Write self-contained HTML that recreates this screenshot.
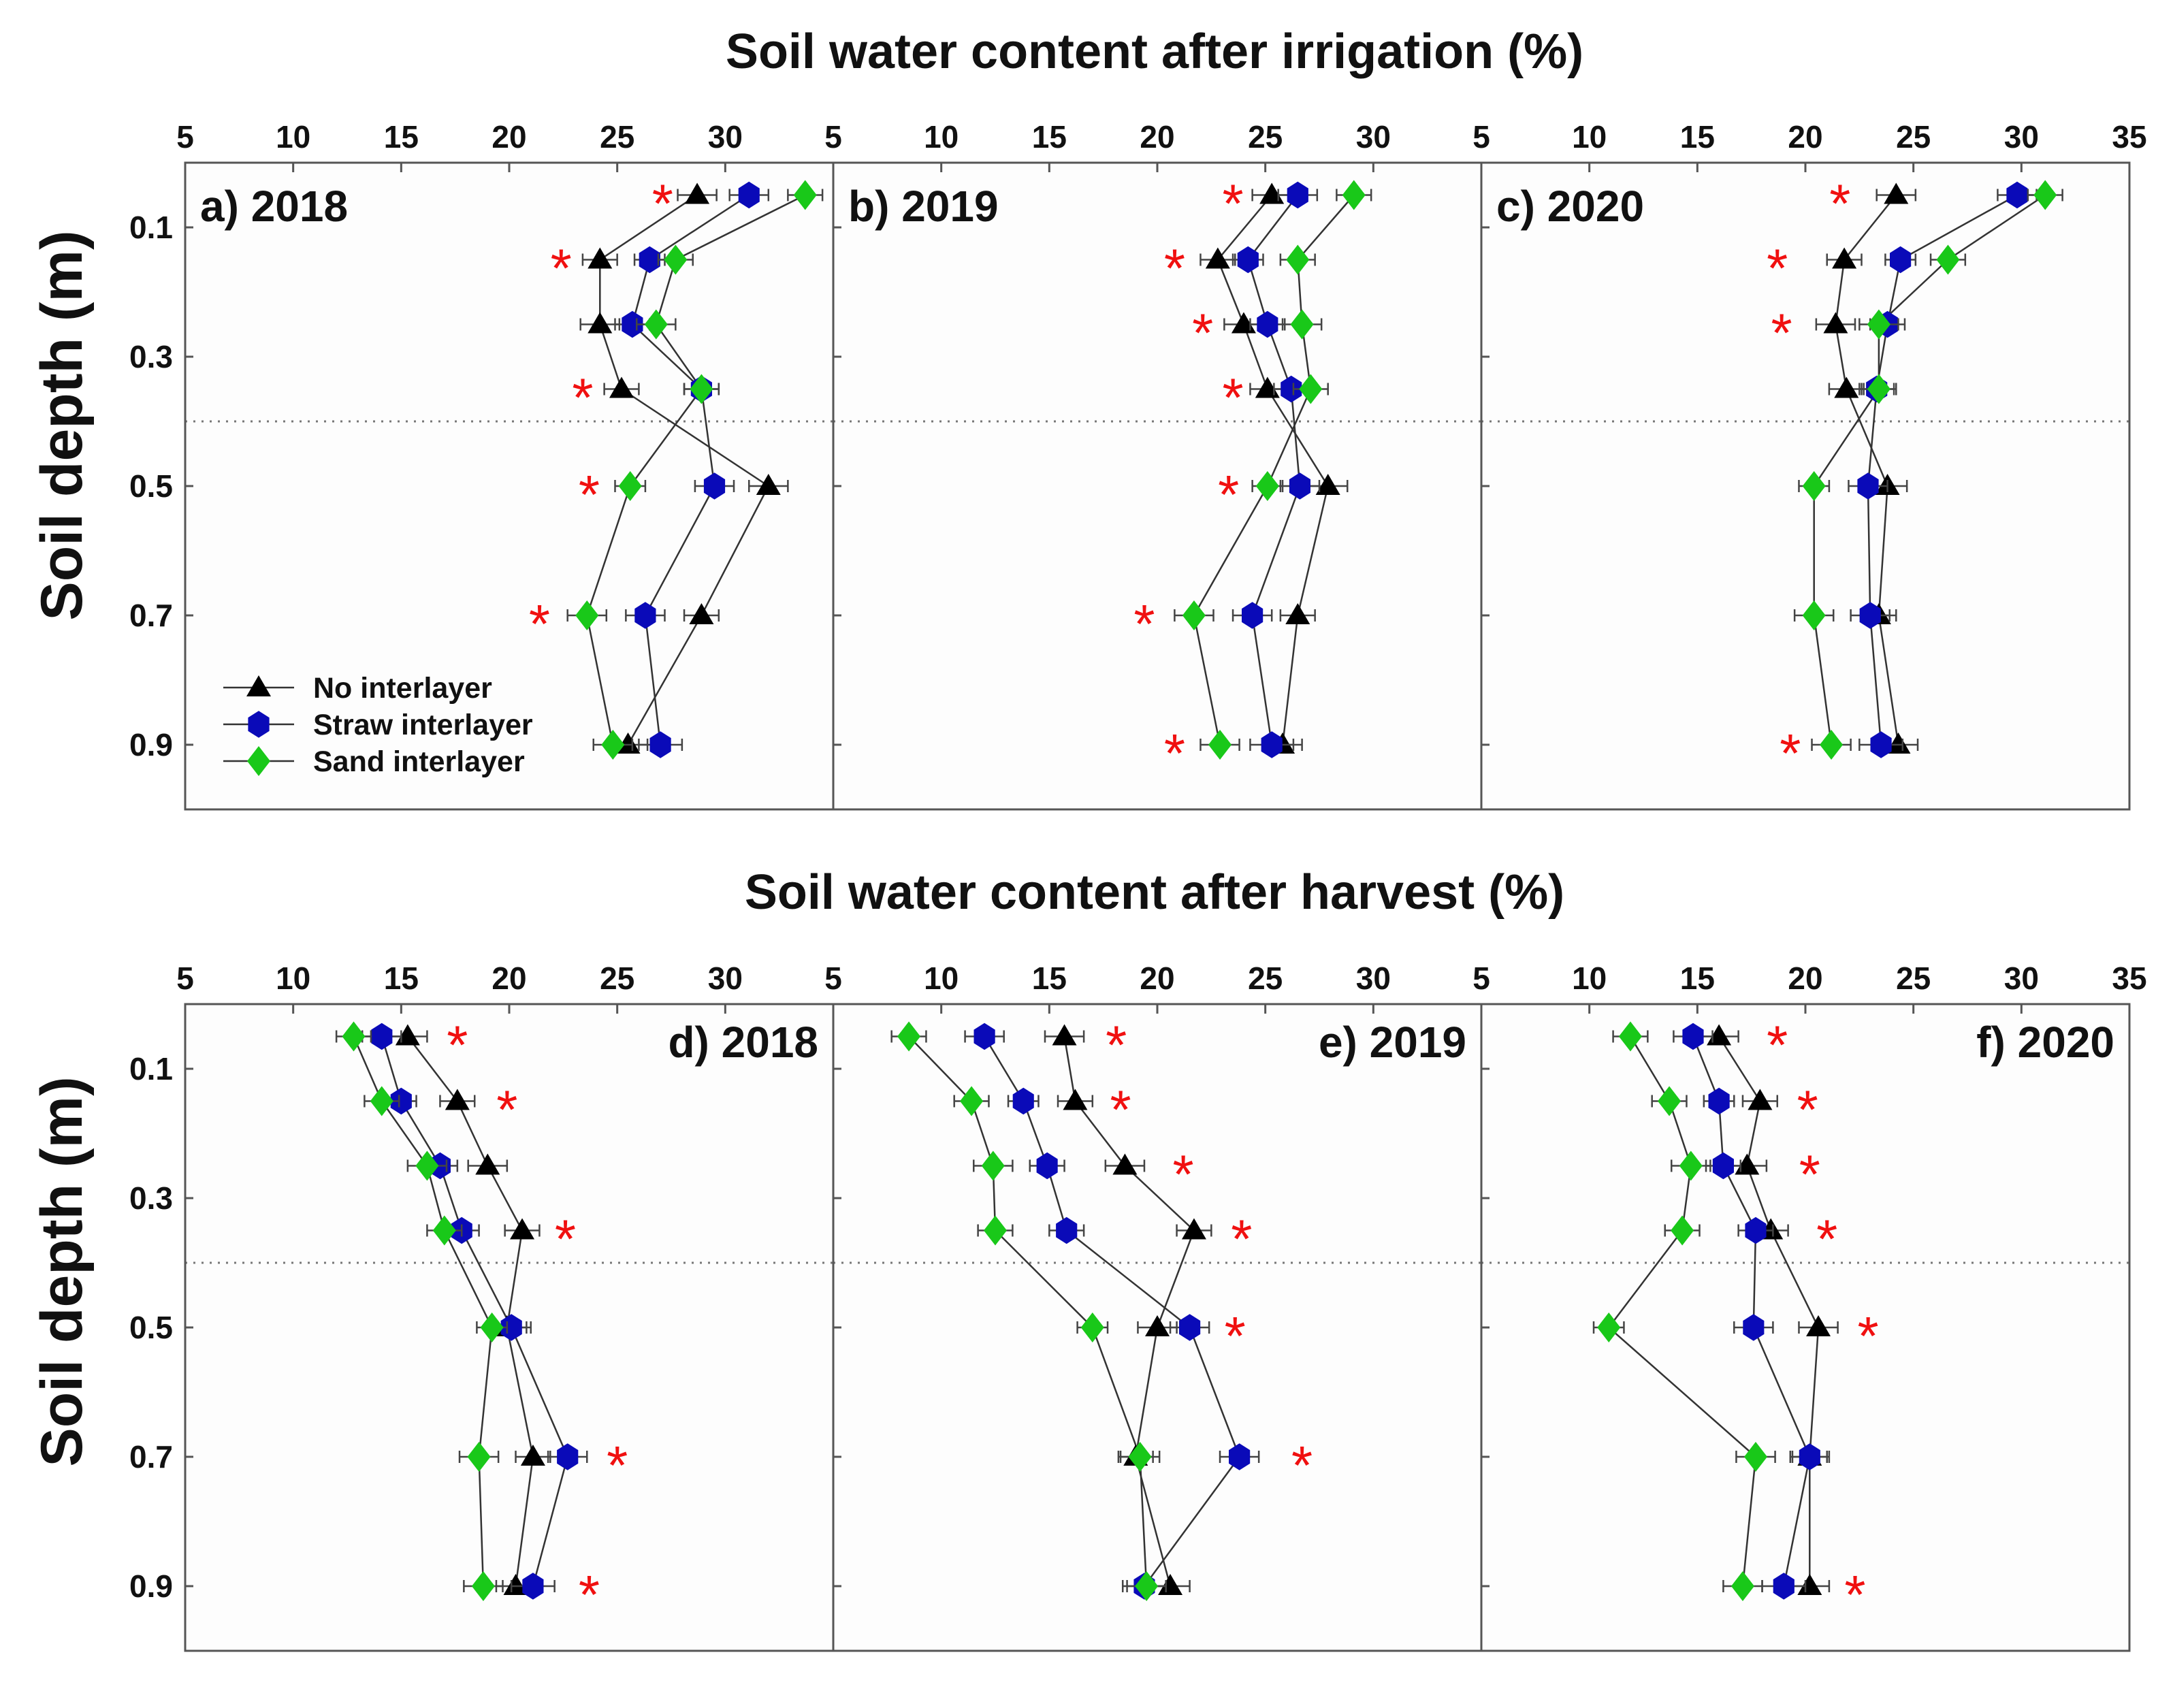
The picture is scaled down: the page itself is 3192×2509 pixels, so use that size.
<!DOCTYPE html>
<html><head><meta charset="utf-8"><style>
html,body{margin:0;padding:0;background:#fff;}
svg{display:block;font-family:"Liberation Sans",Arial,sans-serif;}
</style></head><body>
<svg id="chart" width="3192" height="2509" viewBox="0 0 3192 2509" xmlns="http://www.w3.org/2000/svg">
<rect width="3192" height="2509" fill="#fff"/>
<text x="1696" y="100" font-size="72" font-weight="bold" text-anchor="middle" fill="#111">Soil water content after irrigation (%)</text>
<text x="1696" y="1335" font-size="72" font-weight="bold" text-anchor="middle" fill="#111">Soil water content after harvest (%)</text>
<text transform="translate(120,625) rotate(-90)" font-size="86" font-weight="bold" text-anchor="middle" fill="#111">Soil depth (m)</text>
<text transform="translate(120,1868) rotate(-90)" font-size="86" font-weight="bold" text-anchor="middle" fill="#111">Soil depth (m)</text>
<g id="plots"></g>
</svg>
<script>
const depths=[0.05,0.15,0.25,0.35,0.5,0.7,0.9];
const xTicks=[5,10,15,20,25,30];
const yTicks=[0.1,0.3,0.5,0.7,0.9];
const panelLabels=["a) 2018","b) 2019","c) 2020","d) 2018","e) 2019","f) 2020"];
const noInter=[
 [28.7,24.2,24.2,25.2,32.0,28.9,25.5],
 [25.3,22.8,24.0,25.1,27.9,26.5,25.8],
 [24.2,21.8,21.4,21.9,23.8,23.4,24.3],
 [15.3,17.6,19.0,20.6,19.9,21.1,20.3],
 [15.7,16.2,18.5,21.7,20.0,19.0,20.6],
 [16.0,17.9,17.3,18.4,20.6,20.2,20.2]];
const straw=[
 [31.1,26.5,25.7,28.9,29.5,26.3,27.0],
 [26.5,24.2,25.1,26.2,26.6,24.4,25.3],
 [29.8,24.4,23.8,23.3,22.9,23.0,23.5],
 [14.1,15.0,16.8,17.8,20.1,22.7,21.1],
 [12.0,13.8,14.9,15.8,21.5,23.8,19.4],
 [14.8,16.0,16.2,17.7,17.6,20.2,19.0]];
const sand=[
 [33.7,27.7,26.8,28.9,25.6,23.6,24.8],
 [29.1,26.5,26.7,27.1,25.1,21.7,22.9],
 [31.1,26.6,23.4,23.4,20.4,20.4,21.2],
 [12.8,14.1,16.2,17.0,19.2,18.6,18.8],
 [8.5,11.4,12.4,12.5,17.0,19.2,19.5],
 [11.9,13.7,14.7,14.3,10.9,17.7,17.1]];
const errNo=[0.9,0.8,0.9,0.8,0.9,0.8,0.9];
const errStraw=[0.9,0.7,0.8,0.8,0.9,0.9,1.0];
const errSand=[0.8,0.8,0.9,0.8,0.7,0.9,0.9];
const stars=[
 [27.1,22.4,null,23.4,23.7,21.4,null],
 [23.5,20.8,22.1,23.5,23.3,19.4,20.8],
 [21.6,18.7,18.9,null,null,null,19.3],
 [17.6,19.9,null,22.6,null,25.0,23.7],
 [18.1,18.3,21.2,23.9,23.6,26.7,null],
 [18.7,20.1,20.2,21.0,22.9,null,22.3]];

const NS="http://www.w3.org/2000/svg";
const root=document.getElementById('plots');
const PX0=272, PW=952, ROWTOP=[239,1475], PH=950;
function mk(tag,attrs,parent){const e=document.createElementNS(NS,tag);for(const k in attrs)e.setAttribute(k,attrs[k]);(parent||root).appendChild(e);return e;}
function xs(p,v){return PX0+(p%3)*PW+(v-5)/30*PW;}
function ys(p,d){return ROWTOP[Math.floor(p/3)]+d/1.0*PH;}
function marker(g,type,x,y,color){
 let el;
 if(type==='tri'){el=mk('polygon',{points:`${x},${y-18} ${x+18},${y+13} ${x-18},${y+13}`,fill:color},g);}
 else if(type==='hex'){const r=18;const pts=[];for(let i=0;i<6;i++){const a=Math.PI/2+i*Math.PI/3;pts.push((x+r*Math.cos(a)).toFixed(1)+','+(y+r*1.1*Math.sin(a)).toFixed(1));}el=mk('polygon',{points:pts.join(' '),fill:color},g);}
 else {el=mk('polygon',{points:`${x},${y-22} ${x+17},${y} ${x},${y+22} ${x-17},${y}`,fill:color},g);}
 return el;
}
for(let p=0;p<6;p++){
 const row=Math.floor(p/3), left=PX0+(p%3)*PW, top=ROWTOP[row];
 const g=mk('g',{});
 
 
 const bg=mk('rect',{x:left,y:top,width:PW,height:PH,fill:'#fdfdfd',stroke:'none'},g);
 
 
 const dl=mk('line',{x1:left,x2:left+PW,y1:ys(p,0.4),y2:ys(p,0.4),stroke:'#777','stroke-width':3,'stroke-dasharray':'3 9'},g);
 
 
 const xt=xTicks.concat([35]);
 xt.forEach(v=>{
  const X=xs(p,v);
  if(v>5&&v<35) mk('line',{x1:X,x2:X,y1:top,y2:top+14,stroke:'#555','stroke-width':3},g);
  if(v===35 && p%3!==2) return;
  const t=mk('text',{x:X,y:top-22,'font-size':46,'font-weight':'bold','text-anchor':'middle',fill:'#111'},g);
  t.textContent=String(v);
  
  
 });
 yTicks.forEach(d=>{
  const Y=ys(p,d);
  mk('line',{x1:left,x2:left+12,y1:Y,y2:Y,stroke:'#555','stroke-width':3},g);
  if(p%3===0){
   const t=mk('text',{x:left-18,y:Y+16,'font-size':46,'font-weight':'bold','text-anchor':'end',fill:'#111'},g);
   t.textContent=d.toFixed(1);
   
   
  }
 });
 const series=[[noInter[p],errNo,'tri','#000','no-interlayer'],[straw[p],errStraw,'hex','#0a0ab8','straw-interlayer'],[sand[p],errSand,'dia','#19c819','sand-interlayer']];
 series.forEach(s=>{
  const pts=s[0].map((v,i)=>xs(p,v).toFixed(1)+','+ys(p,depths[i]).toFixed(1)).join(' ');
  const pl=mk('polyline',{points:pts,fill:'none',stroke:'#333','stroke-width':2.5},g);
  
  
 });
 series.forEach(s=>{
  s[0].forEach((v,i)=>{
   const X=xs(p,v),Y=ys(p,depths[i]),e=s[1][i]/30*PW;
   mk('line',{x1:X-e,x2:X+e,y1:Y,y2:Y,stroke:'#444','stroke-width':2.5},g);
   mk('line',{x1:X-e,x2:X-e,y1:Y-9,y2:Y+9,stroke:'#444','stroke-width':2.5},g);
   mk('line',{x1:X+e,x2:X+e,y1:Y-9,y2:Y+9,stroke:'#444','stroke-width':2.5},g);
   const m=marker(g,s[2],X,Y,s[3]);
   
   
  });
 });
 stars[p].forEach((v,i)=>{
  if(v===null) return;
  const t=mk('text',{x:xs(p,v),y:ys(p,depths[i])+40,'font-size':80,'text-anchor':'middle',fill:'#f01010'},g);
  t.textContent='*';
  
  
 });
 const lbl=mk('text',{'font-size':64,'font-weight':'bold',fill:'#111'},g);
 if(row===0){lbl.setAttribute('x',left+22);lbl.setAttribute('y',top+86);}
 else{lbl.setAttribute('x',left+PW-22);lbl.setAttribute('y',top+78);lbl.setAttribute('text-anchor','end');}
 lbl.textContent=panelLabels[p];
 
 
 mk('rect',{x:left,y:top,width:PW,height:PH,fill:'none',stroke:'#555','stroke-width':3},g);
}
const lg=mk('g',{});


const legendItems=[['No interlayer','tri','#000'],['Straw interlayer','hex','#0a0ab8'],['Sand interlayer','dia','#19c819']];
legendItems.forEach((it,i)=>{
 const Y=1010+i*54;
 mk('line',{x1:328,x2:432,y1:Y,y2:Y,stroke:'#333','stroke-width':2.5},lg);
 marker(lg,it[1],380,Y,it[2]);
 const t=mk('text',{x:460,y:Y+15,'font-size':43,'font-weight':'bold',fill:'#111'},lg);
 t.textContent=it[0];
 
 
});
</script>
</body></html>
